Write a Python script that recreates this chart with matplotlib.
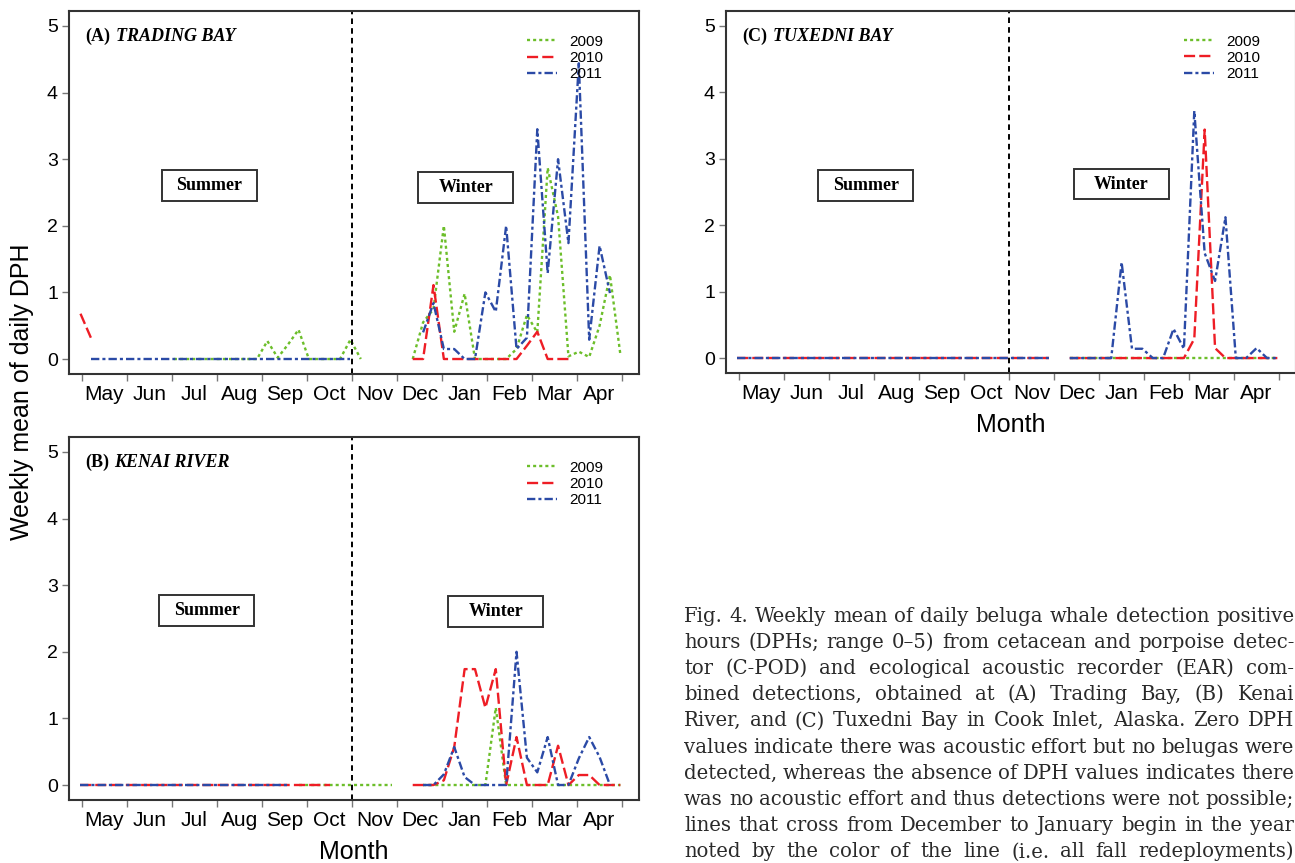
import numpy as np
import matplotlib
matplotlib.use("Agg")
import matplotlib.pyplot as plt
from matplotlib.lines import Line2D
from matplotlib.patches import Rectangle

plt.rcParams["font.family"] = "Liberation Sans"
plt.rcParams["lines.scale_dashes"] = False

months = ["May", "Jun", "Jul", "Aug", "Sep", "Oct", "Nov", "Dec", "Jan", "Feb", "Mar", "Apr"]
years = ["2009", "2010", "2011"]

# weekly mean of daily DPH as (first week, values) runs; week 0 = start of May
trading_2009 = [(9, [0, 0, 0, 0, 0, 0, 0, 0, 0, 0.27, 0.02, 0.22, 0.44, 0, 0, 0, 0, 0.29, 0]),
                (32, [0, 0.55, 0.75, 2.0, 0.41, 0.98, 0, 0, 0, 0, 0.15, 0.66, 0.4, 2.87, 2.14,
                      0.04, 0.11, 0.03, 0.5, 1.26, 0.07])]
trading_2010 = [(0, [0.68, 0.32]),
                (32, [0, 0, 1.11, 0, 0, 0, 0, 0, 0, 0, 0, 0.2, 0.41, 0, 0, 0])]
trading_2011 = [(1, [0, 0, 0, 0, 0, 0, 0, 0, 0, 0, 0, 0, 0, 0, 0, 0, 0, 0, 0, 0, 0, 0, 0, 0, 0, 0]),
                (33, [0.4, 0.84, 0.15, 0.15, 0, 0, 1.0, 0.71, 2.0, 0.15, 0.32, 3.45, 1.29, 3.0,
                      1.74, 4.44, 0.29, 1.7, 0.99])]

kenai_2009 = [(21, [0, 0, 0, 0, 0, 0, 0, 0, 0, 0]),
              (33, [0, 0, 0, 0, 0, 0, 0, 1.16, 0, 0, 0, 0, 0, 0, 0, 0, 0, 0, 0, 0])]
kenai_2010 = [(0, [0, 0, 0, 0, 0, 0, 0, 0, 0, 0, 0, 0, 0, 0, 0, 0, 0, 0, 0, 0, 0, 0, 0, 0, 0]),
              (32, [0, 0, 0, 0.07, 0.57, 1.74, 1.74, 1.16, 1.74, 0, 0.72, 0, 0, 0, 0.59, 0,
                    0.15, 0.15, 0, 0, 0])]
kenai_2011 = [(0, [0, 0, 0, 0, 0, 0, 0, 0, 0, 0, 0, 0, 0, 0, 0, 0, 0, 0, 0, 0, 0]),
              (33, [0, 0, 0.16, 0.57, 0.12, 0, 0, 0, 0, 2.0, 0.41, 0.19, 0.72, 0, 0, 0.4, 0.72,
                    0.42, 0])]

tuxedni_2009 = [(32, [0, 0, 0, 0, 0, 0, 0, 0, 0, 0, 0, 0, 0, 0, 0, 0, 0, 0, 0, 0, 0])]
tuxedni_2010 = [(0, [0, 0, 0, 0, 0, 0, 0, 0, 0, 0, 0, 0, 0, 0, 0, 0, 0, 0, 0, 0, 0, 0, 0, 0, 0,
                     0, 0, 0, 0, 0, 0]),
                (32, [0, 0, 0, 0, 0, 0, 0, 0, 0, 0, 0, 0, 0.29, 3.44, 0.15, 0, 0, 0, 0, 0, 0])]
tuxedni_2011 = [(0, [0, 0, 0, 0, 0, 0, 0, 0, 0, 0, 0, 0, 0, 0, 0, 0, 0, 0, 0, 0, 0, 0, 0, 0, 0,
                     0, 0, 0, 0, 0, 0]),
                (32, [0, 0, 0, 0, 0, 1.44, 0.14, 0.14, 0, 0, 0.44, 0.14, 3.72, 1.58, 1.16, 2.12,
                      0, 0, 0.15, 0, 0])]

caption = [
    "Fig. 4. Weekly mean of daily beluga whale detection positive",
    "hours (DPHs; range 0\u20135) from cetacean and porpoise detec-",
    "tor (C-POD) and ecological acoustic recorder (EAR) com-",
    "bined detections, obtained at (A) Trading Bay, (B) Kenai",
    "River, and (C) Tuxedni Bay in Cook Inlet, Alaska. Zero DPH",
    "values indicate there was acoustic effort but no belugas were",
    "detected, whereas the absence of DPH values indicates there",
    "was no acoustic effort and thus detections were not possible;",
    "lines that cross from December to January begin in the year",
    "noted by the color of the line (i.e. all fall redeployments)",
]

styles = {
    "2009": dict(color="#6cbe2a", lw=1.7, dashes=(2.2, 2.2)),
    "2010": dict(color="#ee1d25", lw=1.7, dashes=(8, 3)),
    "2011": dict(color="#2b4aa6", lw=1.7, dashes=(6, 2.2, 2.2, 2.2)),
}
serif_bold = dict(family="Liberation Serif", weight="bold", size=13)

W, H = 1295, 863
fig = plt.figure(figsize=(W / 100, H / 100), dpi=100)
renderer = fig.canvas.get_renderer()


def px_axes(l, t, r, b):
    return fig.add_axes([l / W, 1 - b / H, (r - l) / W, (b - t) / H])


def to_month(weeks):
    return (np.asarray(weeks) - 0.15) * 12 / 52


ax_a = px_axes(69, 11, 639, 374)
ax_b = px_axes(69, 437, 639, 800)
ax_c = px_axes(726, 11, 1296, 373)

panels = [
    (ax_a, "(A)", "TRADING BAY", [trading_2009, trading_2010, trading_2011],
     [(0.246, 0.518), (0.696, 0.515)], False),
    (ax_b, "(B)", "KENAI RIVER", [kenai_2009, kenai_2010, kenai_2011],
     [(0.242, 0.521), (0.749, 0.518)], True),
    (ax_c, "(C)", "TUXEDNI BAY", [tuxedni_2009, tuxedni_2010, tuxedni_2011],
     [(0.245, 0.519), (0.694, 0.522)], True),
]

for ax, tag, name, series, boxes, show_xlabel in panels:
    for year, runs in zip(years, series):
        for start, vals in runs:
            ax.plot(to_month(np.arange(start, start + len(vals))), vals, **styles[year])
    ax.axvline(6, color="black", lw=1.4, dashes=(4, 3))

    ax.set_xlim(-0.29, 12.38)
    ax.set_ylim(-0.225, 5.225)
    ax.set_xticks(range(13))
    ax.set_xticklabels([])
    ax.set_xticks(np.arange(12) + 0.5, minor=True)
    ax.set_xticklabels(months, minor=True)
    ax.set_yticks(range(6))
    ax.tick_params(which="major", length=5, width=1, color="#777777", labelsize=14, pad=3)
    ax.tick_params(axis="x", which="minor", length=0, labelsize=15, pad=8)
    for s in ax.spines.values():
        s.set_color("#333333")
        s.set_linewidth(1.5)
    if show_xlabel:
        ax.set_xlabel("Month", fontsize=18, labelpad=7)

    # panel tag upright, site name italic
    t = ax.text(0.028, 0.918, tag, transform=ax.transAxes, **serif_bold)
    tw = t.get_window_extent(renderer).width * 72 / fig.dpi
    ax.annotate(name, xy=(0.028, 0.918), xycoords="axes fraction",
                xytext=(tw + 4, 0), textcoords="offset points",
                va="baseline", style="italic", **serif_bold)

    for (cx, cy), label in zip(boxes, ["Summer", "Winter"]):
        bw, bh = 95 / 570, 31 / 363
        ax.add_patch(Rectangle((cx - bw / 2, cy - bh / 2), bw, bh, transform=ax.transAxes,
                               fill=False, edgecolor="#333333", lw=1.4))
        ax.text(cx, cy, label, transform=ax.transAxes, ha="center", va="center",
                family="Liberation Serif", weight="bold", size=13)

    handles = [Line2D([], [], **styles[y]) for y in years]
    ax.legend(handles, years, loc="upper left", bbox_to_anchor=(0.803, 0.935),
              frameon=False, fontsize=11, handlelength=2.0, handletextpad=0.8,
              labelspacing=0.15, borderaxespad=0, borderpad=0)

fig.text(22 / W, 1 - 392 / H, "Weekly mean of daily DPH", rotation=90,
         ha="center", va="center", fontsize=18)

# justified caption block: pick the largest size at which every line fits
left, right = 684, 1294
cap_font = dict(family="DejaVu Serif", color="#2a2a2a")
probe = fig.text(0, 0, " ", size=13, **cap_font)
scale = 10.0
for line in caption:
    words = line.split()
    ts = [fig.text(0, 0, w, size=13, **cap_font) for w in words]
    total = sum(t.get_window_extent(renderer).width for t in ts) + 0.3 * 13 * 100 / 72 * (len(words) - 1)
    scale = min(scale, (right - left) / total)
    for t in ts:
        t.remove()
probe.remove()
cap_size = 13 * scale

for i, line in enumerate(caption):
    y = 1 - (621.5 + i * 26.2) / H
    words = line.split()
    texts = [fig.text(0, y, w, size=cap_size, **cap_font) for w in words]
    widths = [t.get_window_extent(renderer).width for t in texts]
    gap = (right - left - sum(widths)) / (len(words) - 1)
    x = left
    for t, wd in zip(texts, widths):
        t.set_x(x / W)
        x += wd + gap

fig.savefig("out.png", dpi=100)
